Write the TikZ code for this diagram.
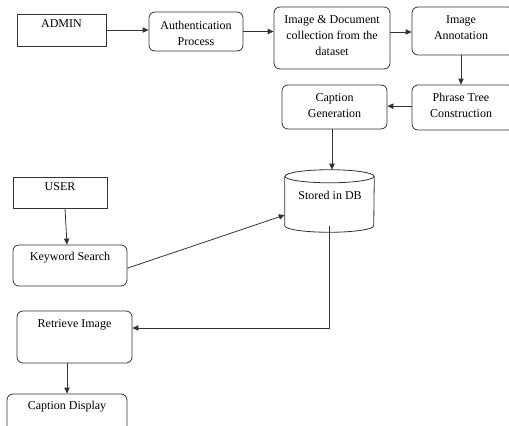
\documentclass[tikz,border=0pt]{standalone}
\usepackage{fontspec}
\setmainfont{Liberation Serif}
\usetikzlibrary{arrows.meta}
\begin{document}
\begin{tikzpicture}[x=0.75pt,y=-0.75pt,
  line/.style={draw=black!80,line width=0.6pt},
  sbox/.style={line,rectangle,inner sep=0pt},
  rbox/.style={line,rectangle,rounded corners=4.5pt,inner sep=0pt},
  ghost/.style={rectangle,inner sep=0pt,draw=none},
  txt/.style={inner sep=0pt,align=center,font=\fontsize{9pt}{12pt}\selectfont},
  arr/.style={line,-{Triangle[length=4.5pt,width=4pt]}}]
\useasboundingbox (0,0) rectangle (509,425);
% boxes
\node[sbox,minimum width=66.75pt,minimum height=24pt] (admin) at (61.5,30) {};
\node[rbox,minimum width=70.5pt,minimum height=29.25pt] (auth) at (196,31.5) {};
\node[rbox,minimum width=87pt,minimum height=46.5pt] (imgdoc) at (332,38) {};
\node[rbox,minimum width=76.5pt,minimum height=36pt] (annot) at (463,31) {};
\node[rbox,minimum width=76.5pt,minimum height=33.75pt] (phrase) at (463,107.5) {};
\node[rbox,minimum width=78.75pt,minimum height=33pt] (capgen) at (334.5,107) {};
\node[ghost,minimum width=66.75pt,minimum height=46.5pt] (db) at (329.5,201) {};
\node[sbox,minimum width=70.5pt,minimum height=23.25pt] (user) at (60,192.5) {};
\node[rbox,minimum width=85.5pt,minimum height=30.75pt] (keyword) at (70,265.5) {};
\node[rbox,minimum width=86.25pt,minimum height=39pt] (retrieve) at (74.5,337) {};
\node[rbox,minimum width=90pt,minimum height=39pt] (capdisp) at (67,420) {};
% cylinder
\draw[line] ([yshift=-4.9pt]db.north west) -- ([yshift=4.9pt]db.south west)
  arc[start angle=180,end angle=360,x radius=33.375pt,y radius=4.9pt]
  -- ([yshift=-4.9pt]db.north east);
\draw[line] ([yshift=-4.9pt]db.north) ellipse[x radius=33.375pt,y radius=4.9pt];
% texts
\node[txt] (tadmin) at (61.5,24) {ADMIN};
\node[txt] (tauth) at (196,33) {Authentication\\Process};
\node[txt] (timgdoc) at (332,36) {Image \& Document\\collection from the\\dataset};
\node[txt] (tannot) at (461,28) {Image\\Annotation};
\node[txt] (tphrase) at (461,105.5) {Phrase Tree\\Construction};
\node[txt] (tcapgen) at (334.5,105.5) {Caption\\Generation};
\node[txt] (tdb) at (330,195) {Stored in DB};
\node[txt] (tuser) at (60,187) {USER};
\node[txt] (tkeyword) at (70,258) {Keyword Search};
\node[txt] (tretrieve) at (74.5,325) {Retrieve Image};
\node[txt] (tcapdisp) at (67,407) {Caption Display};
% connectors
\draw[arr] (admin.east) -- (admin.east -| auth.west);
\draw[arr] (auth.east) -- (auth.east -| imgdoc.west);
\draw[arr] ([yshift=4.5pt]imgdoc.east) -- ([yshift=4.5pt]imgdoc.east -| annot.west);
\draw[arr] ([xshift=-1.5pt]annot.south) -- ([xshift=-1.5pt]phrase.north);
\draw[arr] ([yshift=1pt]phrase.west) -- ([yshift=1pt]phrase.west -| capgen.east);
\draw[arr] ([xshift=-1.9pt]capgen.south) -- ([xshift=-1.9pt]capgen.south |- db.north);
\draw[arr] ([xshift=3.75pt]user.south) -- ([xshift=-2.25pt]keyword.north);
\draw[arr] ([yshift=-2pt]keyword.east) -- ([yshift=-10.5pt]db.west);
\draw[arr] ([yshift=4.9pt]db.south) |- ([yshift=6.75pt]retrieve.east);
\draw[arr] (capdisp.north |- retrieve.south) -- (capdisp.north);
\end{tikzpicture}
\end{document}
